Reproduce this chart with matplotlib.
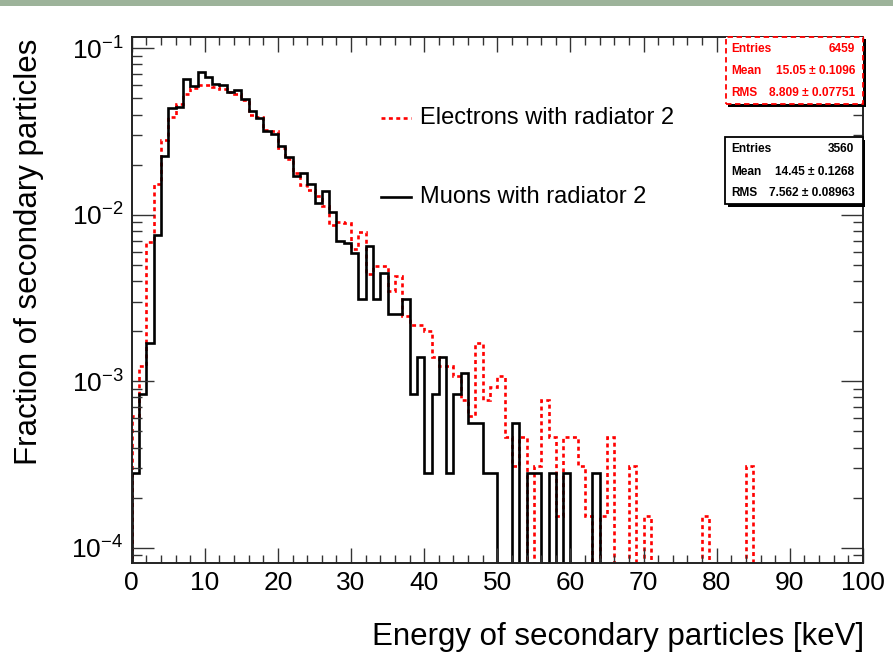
import numpy as np
import matplotlib
matplotlib.use("Agg")
import matplotlib.pyplot as plt
from matplotlib.patches import Rectangle
from matplotlib.lines import Line2D
from matplotlib.ticker import MultipleLocator, LogLocator, FixedLocator, NullFormatter

plt.rcParams['font.family'] = ['Liberation Sans', 'DejaVu Sans']
plt.rcParams['mathtext.fontset'] = 'custom'
plt.rcParams['mathtext.rm'] = 'Liberation Sans'
plt.rcParams['mathtext.it'] = 'Liberation Sans:italic'
plt.rcParams['mathtext.bf'] = 'Liberation Sans:bold'

# 1 keV bins from 0 to 100 keV
bin_edges = np.arange(0, 101, 1)

# fraction of secondary particles per bin
electrons = [
    0.00062, 0.00124, 0.0069, 0.0153, 0.0281, 0.0385, 0.0461, 0.0530, 0.0575, 0.0600,
    0.0605, 0.0585, 0.0570, 0.0545, 0.0530, 0.0490, 0.0398, 0.0385, 0.0324, 0.0319,
    0.0251, 0.0215, 0.0178, 0.0150, 0.0140, 0.0130, 0.0113, 0.0087, 0.0091, 0.0089,
    0.0062, 0.0079, 0.0044, 0.0049, 0.0049, 0.0035, 0.0043, 0.00248, 0.00217, 0.00217,
    0.00201, 0.00139, 0.00124, 0.00124, 0.00108, 0.000774, 0.00062, 0.0017, 0.000774, 0.000929,
    0.00108, 0.000464, 0.00031, 0.000464, 0.0, 0.00031, 0.000774, 0.000464, 0.000155, 0.000464,
    0.000464, 0.00031, 0.000155, 0.0, 0.000155, 0.000464, 0.0, 0.0, 0.00031, 0.0,
    0.000155, 0.0, 0.0, 0.0, 0.0, 0.0, 0.0, 0.0, 0.000155, 0.0,
    0.0, 0.0, 0.0, 0.0, 0.00031, 0.0, 0.0, 0.0, 0.0, 0.0,
    0.0, 0.0, 0.0, 0.0, 0.0, 0.0, 0.0, 0.0, 0.0, 0.0,
]
muons = [
    0.000281, 0.000843, 0.00169, 0.0076, 0.0225, 0.0436, 0.0445, 0.0652, 0.0594, 0.0723,
    0.0670, 0.0614, 0.0604, 0.0543, 0.0565, 0.0495, 0.0418, 0.0382, 0.0319, 0.0307,
    0.0259, 0.0223, 0.0172, 0.0178, 0.0154, 0.0118, 0.0138, 0.0104, 0.0070, 0.0068,
    0.0059, 0.0031, 0.0065, 0.0031, 0.0045, 0.00253, 0.00253, 0.0031, 0.000843, 0.0014,
    0.000281, 0.000843, 0.0014, 0.000281, 0.000843, 0.00112, 0.000562, 0.000562, 0.000281, 0.000281,
    0.0, 0.0, 0.000562, 0.0, 0.000281, 0.000281, 0.0, 0.000281, 0.0, 0.000281,
    0.0, 0.0, 0.0, 0.000281, 0.0, 0.0, 0.0, 0.0, 0.0, 0.0,
    0.0, 0.0, 0.0, 0.0, 0.0, 0.0, 0.0, 0.0, 0.0, 0.0,
    0.0, 0.0, 0.0, 0.0, 0.0, 0.0, 0.0, 0.0, 0.0, 0.0,
    0.0, 0.0, 0.0, 0.0, 0.0, 0.0, 0.0, 0.0, 0.0, 0.0,
]

labels = ["Electrons with radiator 2", "Muons with radiator 2"]
stats_e = [("Entries", "6459"), ("Mean", "15.05 \u00b1 0.1096"), ("RMS", "8.809 \u00b1 0.07751")]
stats_mu = [("Entries", "3560"), ("Mean", "14.45 \u00b1 0.1268"), ("RMS", "7.562 \u00b1 0.08963")]
y_ticks = [1e-4, 1e-3, 1e-2, 1e-1]

W, H = 893, 668
fig = plt.figure(figsize=(W / 100, H / 100), dpi=100)


def fx(px):
    return px / W


def fy(py):
    return 1 - py / H


# slide header band
fig.add_artist(Rectangle((0, fy(6)), 1, 6 / H, transform=fig.transFigure,
                         color='#9db39a', lw=0))

ax = fig.add_axes([fx(131.7), fy(563), (863 - 131.7) / W, (563 - 36.7) / H])

# empty bins are pushed far below the frame so the outline drops to the bottom
e_vals = np.where(np.array(electrons) > 0, electrons, 1e-9)
m_vals = np.where(np.array(muons) > 0, muons, 1e-9)
dots = (0, (1.5, 1.3))
ax.stairs(e_vals, bin_edges, baseline=1e-9, color='#ff0000', lw=1.9,
          linestyle=dots, label=labels[0])
ax.stairs(m_vals, bin_edges, baseline=1e-9, color='black', lw=1.9, label=labels[1])

ax.set_yscale('log')
ax.set_xlim(0, 100)
ax.set_ylim(8.1e-5, 0.1174)

ax.xaxis.set_major_locator(MultipleLocator(10))
ax.xaxis.set_minor_locator(MultipleLocator(2))
ax.yaxis.set_major_locator(FixedLocator(y_ticks))
ax.set_yticklabels([r'$10^{%d}$' % int(np.log10(t)) for t in y_ticks])
ax.yaxis.set_minor_locator(LogLocator(base=10, subs=np.arange(2, 10)))
ax.yaxis.set_minor_formatter(NullFormatter())

ax.tick_params(which='both', direction='in', top=True, right=True, colors='#333333',
               width=1.0, labelcolor='black', labelsize=19)
ax.tick_params(axis='x', which='major', length=11, pad=6)
ax.tick_params(axis='x', which='minor', length=5.5)
ax.tick_params(axis='y', which='major', length=16, pad=6)
ax.tick_params(axis='y', which='minor', length=7.5)
for s in ax.spines.values():
    s.set_linewidth(1.4)
    s.set_color('#222222')

# axis titles
fig.text(fx(29), fy(252), "Fraction of secondary particles", rotation=90,
         ha='center', va='center', fontsize=22.5)
fig.text(fx(864), fy(637), "Energy of secondary particles [keV]",
         ha='right', va='center', fontsize=22.5)

# legend drawn by hand
for (y, ls, c, txt) in [(118, dots, '#ff0000', labels[0]),
                        (197, '-', 'black', labels[1])]:
    fig.add_artist(Line2D([fx(381), fx(411)], [fy(y), fy(y)], transform=fig.transFigure,
                          color=c, lw=1.9, linestyle=ls))
    fig.text(fx(420), fy(y), txt, ha='left', va='center', fontsize=17)


def stats_box(x0, y0, x1, y1, edge, ls, rows, rows_y):
    fig.add_artist(Rectangle((fx(x0 + 2.5), fy(y1 + 2.5)), (x1 - x0) / W, (y1 - y0) / H,
                             transform=fig.transFigure, facecolor='black', lw=0))
    fig.add_artist(Rectangle((fx(x0), fy(y1)), (x1 - x0) / W, (y1 - y0) / H,
                             transform=fig.transFigure, facecolor='white',
                             edgecolor=edge, lw=1.3, linestyle=ls))
    for (name, val), ry in zip(rows, rows_y):
        fig.text(fx(x0 + 6), fy(ry), name, ha='left', va='center', fontsize=8.6,
                 fontweight='bold', color=edge)
        fig.text(fx(x1 - 8), fy(ry), val, ha='right', va='center', fontsize=8.6,
                 fontweight='bold', color=edge)


stats_box(725.7, 36.7, 863, 104, '#ff0000', (0, (3, 2)), stats_e, [49, 71, 92.7])
stats_box(725, 137.3, 862.5, 204, 'black', '-', stats_mu, [149.3, 171.7, 193.3])

fig.savefig("out.png", dpi=100)
